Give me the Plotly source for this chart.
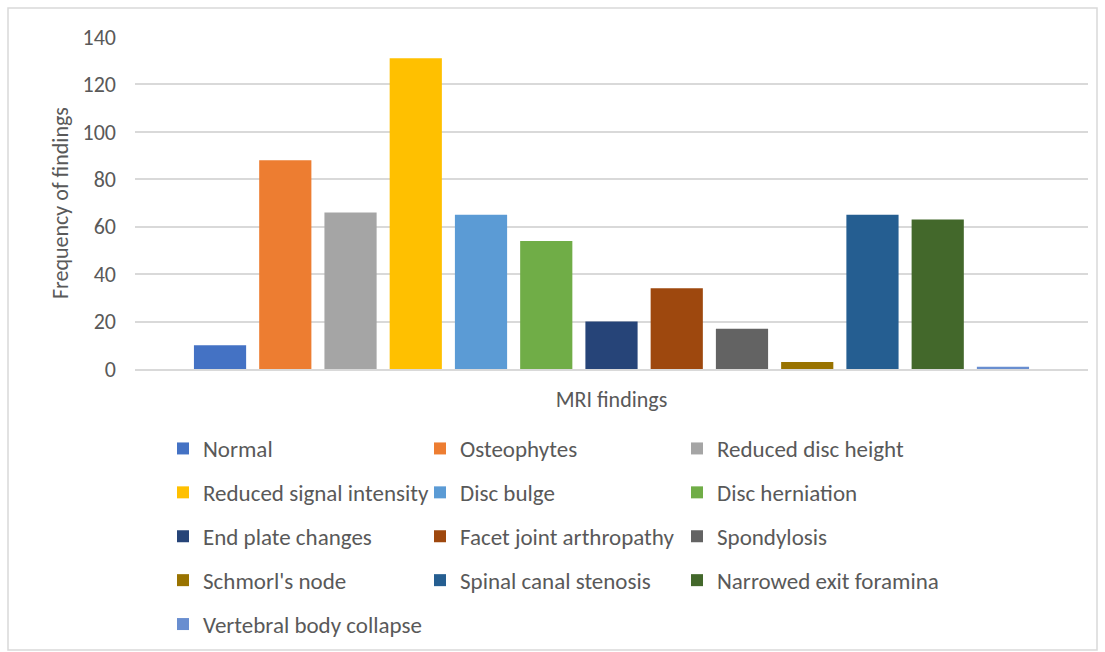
import plotly.graph_objects as go

# MRI findings and how often each was seen
findings = [
    "Normal", "Osteophytes", "Reduced disc height", "Reduced signal intensity",
    "Disc bulge", "Disc herniation", "End plate changes", "Facet joint arthropathy",
    "Spondylosis", "Schmorl's node", "Spinal canal stenosis", "Narrowed exit foramina",
    "Vertebral body collapse",
]
frequency = [10, 88, 66, 131, 65, 54, 20, 34, 17, 3, 65, 63, 1]
colors = [
    "#4472C4", "#ED7D31", "#A5A5A5", "#FFC000", "#5B9BD5", "#70AD47", "#264478",
    "#9E480E", "#636363", "#997300", "#255E91", "#43682B", "#698ED0",
]
y_ticks = [0, 20, 40, 60, 80, 100, 120, 140]

FONT = "Carlito, Calibri, Lato, sans-serif"
GREY = "#595959"
FS = 22
LFS = 23
W, H = 1105, 652
L, R, T, B = 135, 17, 37, 283

# legend columns: item i goes to column i % 3
legend_names = ["legend", "legend2", "legend3"]

fig = go.Figure()
for i, (name, val, col) in enumerate(zip(findings, frequency, colors)):
    fig.add_trace(go.Bar(
        x=["MRI findings"], y=[val], name=name, marker_color=col,
        marker_line_width=0, legend=legend_names[i % 3], legendgroup=name,
        hovertemplate=name + ": %{y}<extra></extra>",
    ))

col_x = [183, 440, 697]
legend_common = dict(
    xref="container", yref="container", yanchor="top", xanchor="left",
    font=dict(family=FONT, size=LFS, color=GREY), tracegroupgap=11,
    bgcolor="rgba(0,0,0,0)", itemwidth=30,
)
legends = {}
for k, lname in enumerate(legend_names):
    legends[lname] = dict(x=(col_x[k] - 20) / W, y=1 - 427 / H, **legend_common)

fig.update_layout(
    width=W, height=H,
    margin=dict(l=L, r=R, t=T, b=B, autoexpand=False),
    paper_bgcolor="white", plot_bgcolor="white",
    barmode="group", bargap=0.11, bargroupgap=0.2,
    font=dict(family=FONT, color=GREY),
    showlegend=True,
    **legends,
)
fig.update_xaxes(
    showticklabels=False, showgrid=False, automargin=False,
    showline=True, linecolor="#D9D9D9", linewidth=1.5,
    title=dict(text="MRI findings", font=dict(family=FONT, size=FS, color=GREY), standoff=22),
)
fig.update_yaxes(
    range=[0, 140], tickvals=y_ticks, showgrid=True, gridcolor="#D9D9D9", gridwidth=1.5,
    zeroline=False, ticks="", ticklabelstandoff=18, automargin=False,
    tickfont=dict(family=FONT, size=FS, color=GREY),
)

pw, ph = W - L - R, H - T - B

# y-axis title, placed in pixel terms left of the tick labels
fig.add_annotation(
    text="Frequency of findings", textangle=-90, showarrow=False,
    xref="paper", yref="paper", x=(60 - L) / pw, y=0.5,
    xanchor="center", yanchor="middle",
    font=dict(family=FONT, size=FS, color=GREY),
)

# thin frame around the whole chart
fig.add_shape(
    type="rect", xref="paper", yref="paper",
    x0=(8 - L) / pw, x1=(1097 - L) / pw,
    y0=(H - B - 650) / ph, y1=(H - B - 8) / ph,
    line=dict(color="#D9D9D9", width=1.5), fillcolor="rgba(0,0,0,0)", layer="below",
)

fig.write_html("out.html")
